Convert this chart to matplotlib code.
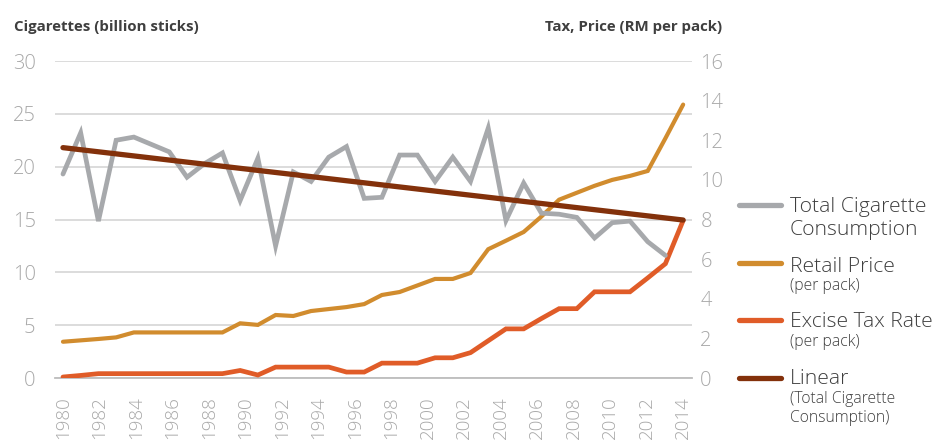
import numpy as np
import matplotlib
matplotlib.use("Agg")
import matplotlib.pyplot as plt
from matplotlib.lines import Line2D

# ---------------- data ----------------
year_labels = list(range(1980, 2015))

# Total cigarette consumption, billion sticks (left axis)
consumption = [19.3, 23.2, 14.85, 22.5, 22.8, 22.1, 21.4, 19.0, 20.3, 21.3,
               16.8, 20.8, 12.5, 19.5, 18.6, 20.9, 21.9, 17.0, 17.1, 21.1,
               21.1, 18.6, 20.9, 18.6, 23.65, 14.9, 18.45, 15.6, 15.5, 15.2,
               13.25, 14.7, 14.85, 12.9, 11.6]

# Retail price, RM per pack (right axis)
retail_price = [1.83, 1.9, 1.97, 2.05, 2.3, 2.3, 2.3, 2.3, 2.3, 2.3,
                2.76, 2.68, 3.18, 3.13, 3.38, 3.48, 3.58, 3.73, 4.19, 4.34,
                4.67, 5.0, 5.0, 5.3, 6.5, 6.93, 7.37, 8.15, 9.0, 9.35,
                9.7, 10.0, 10.2, 10.45, 12.1, 13.8]

# Excise tax rate, RM per pack (right axis)
excise_tax = [0.05, 0.13, 0.22, 0.22, 0.22, 0.22, 0.22, 0.22, 0.22, 0.22,
              0.38, 0.15, 0.55, 0.55, 0.55, 0.55, 0.3, 0.3, 0.75, 0.75,
              0.75, 1.02, 1.02, 1.28, 1.88, 2.48, 2.48, 3.0, 3.5, 3.5,
              4.35, 4.35, 4.35, 5.05, 5.77, 7.95]

# Linear trend of consumption (start / end values)
trend_values = [21.8, 14.95]

left_ticks = [0, 5, 10, 15, 20, 25, 30]
right_ticks = [0, 2, 4, 6, 8, 10, 12, 14, 16]

# ---------------- styling ----------------
FONT = ["Open Sans", "DejaVu Sans"]
plt.rcParams["font.family"] = FONT

c_gray = "#a7a9ac"
c_price = "#d18c2e"
c_tax = "#e05c28"
c_trend = "#83310b"
c_grid = "#d9d9d9"
c_ticklab = "#a8a8a8"
c_text = "#3f3f3f"

W, H = 940, 441
fig = plt.figure(figsize=(W / 100, H / 100), dpi=100)
pos = [55 / W, 63 / H, 637 / W, 317 / H]

ax = fig.add_axes(pos)
ax.set_zorder(1)
ax2 = ax.twinx()
ax2.set_zorder(2)
ax2.patch.set_visible(False)
ax3 = fig.add_axes(pos, sharex=ax, sharey=ax)
ax3.set_zorder(3)
ax3.patch.set_visible(False)
ax3.axis("off")

x_cons = np.arange(len(consumption))
x_price = np.arange(len(retail_price))
x_tax = np.arange(len(excise_tax))
x_trend = [0, len(retail_price) - 1]

ax2.plot(x_price, retail_price, color=c_price, lw=3.0, solid_joinstyle="miter",
         solid_capstyle="round")
ax2.plot(x_tax, excise_tax, color=c_tax, lw=3.4, solid_joinstyle="miter",
         solid_capstyle="round")
ax3.plot(x_cons, consumption, color=c_gray, lw=3.4, solid_joinstyle="miter",
         solid_capstyle="round")
ax3.plot(x_trend, trend_values, color=c_trend, lw=3.8, solid_capstyle="round")

ax.set_xlim(-0.45, 35.5)
ax.set_ylim(0, 30)
ax2.set_ylim(0, 16)

ax.set_yticks(left_ticks)
ax.set_yticklabels([str(v) for v in left_ticks])
ax2.set_yticks(right_ticks)
ax2.set_yticklabels([str(v) for v in right_ticks])

tick_pos = np.linspace(0, len(retail_price) - 1, len(year_labels))
ax.set_xticks(tick_pos[::2])
ax.set_xticklabels([str(y) for y in year_labels[::2]], rotation=90)

ax.grid(axis="y", color=c_grid, lw=1.3)
ax.set_axisbelow(True)
for a in (ax, ax2):
    for s in a.spines.values():
        s.set_visible(False)
ax.spines["bottom"].set_visible(True)
ax.spines["bottom"].set_color("#bdbdbd")
ax.spines["bottom"].set_linewidth(1.3)

ax.tick_params(axis="y", length=0, pad=14, labelsize=14.5, labelcolor=c_ticklab)
ax2.tick_params(axis="y", length=0, pad=6, labelsize=14.5, labelcolor=c_ticklab)
ax.tick_params(axis="x", length=0, pad=13, labelsize=13.5, labelcolor=c_ticklab)
for lab in ax.get_yticklabels() + ax2.get_yticklabels() + ax.get_xticklabels():
    lab.set_fontweight("light")

# axis titles
fig.text(14 / W, 1 - 31 / H, "Cigarettes (billion sticks)", fontsize=10.8,
         fontweight="bold", color=c_text, ha="left", va="baseline")
fig.text(722 / W, 1 - 31 / H, "Tax, Price (RM per pack)", fontsize=10.8,
         fontweight="bold", color=c_text, ha="right", va="baseline")

# legend (manual)
MAIN, SUB = 15.2, 11.3
leg_items = [
    (c_gray, 205, [("Total Cigarette", 212, MAIN), ("Consumption", 235, MAIN)]),
    (c_price, 263, [("Retail Price", 272, MAIN), ("(per pack)", 290, SUB)]),
    (c_tax, 320, [("Excise Tax Rate", 327, MAIN), ("(per pack)", 346, SUB)]),
    (c_trend, 378, [("Linear", 384, MAIN), ("(Total Cigarette", 403, SUB),
                    ("Consumption)", 422, SUB)]),
]
for color, ly, texts in leg_items:
    fig.add_artist(Line2D([739 / W, 781 / W], [1 - ly / H, 1 - ly / H],
                          color=color, lw=3.8, solid_capstyle="round",
                          transform=fig.transFigure))
    for txt, by, fs in texts:
        fig.text(790 / W, 1 - by / H, txt, fontsize=fs, color=c_text,
                 ha="left", va="baseline", fontweight="light")

fig.savefig("out.png", dpi=100)
